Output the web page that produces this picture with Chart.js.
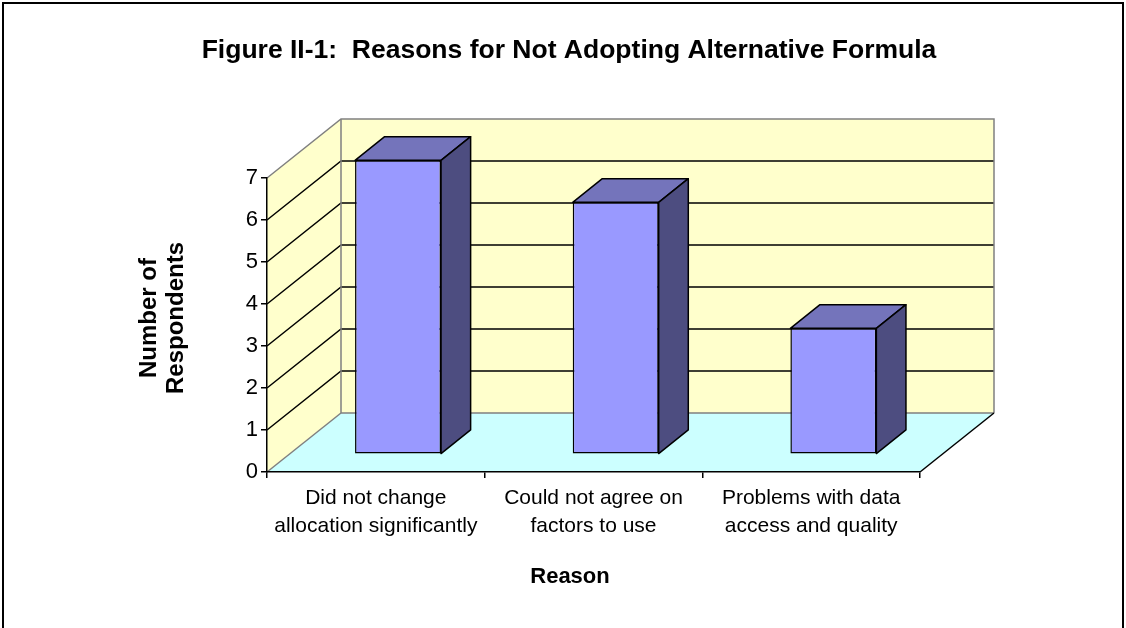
<!DOCTYPE html>
<html>
<head>
<meta charset="utf-8">
<script src="https://cdn.jsdelivr.net/npm/chart.js@4.4.1/dist/chart.umd.min.js"></script>
<style>
  html, body { margin: 0; padding: 0; background: #fff; }
  #wrap { width: 1126px; height: 628px; }
</style>
</head>
<body>
<div id="wrap"><canvas id="myChart" width="1126" height="628"></canvas></div>
<script>
const chartTitle = 'Figure II-1:  Reasons for Not Adopting Alternative Formula';
const xTitle = 'Reason';
const yTitle = ['Number of', 'Respondents'];
const reasons = [
    ['Did not change', 'allocation significantly'],
    ['Could not agree on', 'factors to use'],
    ['Problems with data', 'access and quality']
];
const respondents = [7, 6, 3];
const yMin = 0;
const yMax = 7;

const FONT = '"Liberation Sans", Arial, sans-serif';
// depth of the 3d box, and where the bars sit inside it
const DX = 74, DY = 59;
const BAR_POS = 0.3, BAR_DEPTH = 0.4;


function poly(ctx, pts, fill, stroke, width) {
    ctx.beginPath();
    ctx.moveTo(pts[0][0], pts[0][1]);
    for (let i = 1; i < pts.length; i++) ctx.lineTo(pts[i][0], pts[i][1]);
    ctx.closePath();
    if (fill) { ctx.fillStyle = fill; ctx.fill(); }
    if (stroke) { ctx.strokeStyle = stroke; ctx.lineWidth = width || 1; ctx.stroke(); }
}

function line(ctx, pts, color, width) {
    ctx.beginPath();
    ctx.moveTo(pts[0][0], pts[0][1]);
    for (let i = 1; i < pts.length; i++) ctx.lineTo(pts[i][0], pts[i][1]);
    ctx.strokeStyle = color;
    ctx.lineWidth = width;
    ctx.stroke();
}


const box3d = {
    id: 'box3d',
    beforeDraw(chart) {
        const { ctx, chartArea: a, scales: { y } } = chart;
        const W = chart.width, H = chart.height;
        ctx.save();
        ctx.fillStyle = '#fff';
        ctx.fillRect(0, 0, W, H);

        // frame round the whole figure
        line(ctx, [[3, H], [3, 3], [W - 3, 3], [W - 3, H]], '#000', 2);

        const top = y.getPixelForValue(yMax);
        const bot = y.getPixelForValue(yMin);
        const L = a.left, R = a.right;

        poly(ctx, [[L, bot], [L + DX, bot - DY], [R + DX, bot - DY], [R, bot]], '#ccffff');
        poly(ctx, [[L, bot], [L, top], [L + DX, top - DY], [L + DX, bot - DY]], '#ffffcc');
        poly(ctx, [[L + DX, top - DY], [R + DX, top - DY], [R + DX, bot - DY], [L + DX, bot - DY]], '#ffffcc');

        // gridlines on the side and back walls
        y.ticks.forEach(t => {
            if (t.value <= yMin || t.value >= yMax) return;
            const py = y.getPixelForValue(t.value);
            line(ctx, [[L, py], [L + DX, py - DY], [R + DX, py - DY]], '#000', 1.5);
        });

        // wall edges
        line(ctx, [[L, top], [L + DX, top - DY], [R + DX, top - DY], [R + DX, bot - DY]], '#808080', 1.5);
        line(ctx, [[L + DX, top - DY], [L + DX, bot - DY], [R + DX, bot - DY]], '#808080', 1.5);
        line(ctx, [[L, bot], [L + DX, bot - DY]], '#808080', 1.5);
        line(ctx, [[R, bot], [R + DX, bot - DY]], '#000', 1.5);
        ctx.restore();
    },
    beforeDatasetsDraw(chart) {
        chart.ctx.save();
        chart.ctx.translate(BAR_POS * DX, -BAR_POS * DY);
    },
    afterDatasetsDraw(chart) {
        const ctx = chart.ctx;
        const dx = BAR_DEPTH * DX, dy = BAR_DEPTH * DY;
        chart.getDatasetMeta(0).data.forEach(bar => {
            const { x, y, base, width } = bar.getProps(['x', 'y', 'base', 'width'], true);
            const l = x - width / 2, r = x + width / 2;
            ctx.lineJoin = 'round';
            poly(ctx, [[l, y], [l + dx, y - dy], [r + dx, y - dy], [r, y]], '#7474bb', '#000', 1.5);
            poly(ctx, [[r, y], [r + dx, y - dy], [r + dx, base - dy], [r, base]], '#4d4d80', '#000', 1.5);
        });
        ctx.restore();
    },
    afterDraw(chart) {
        const ctx = chart.ctx;
        ctx.save();
        ctx.fillStyle = '#000';
        ctx.textAlign = 'center';
        ctx.textBaseline = 'middle';
        ctx.font = 'bold 26.5px ' + FONT;
        ctx.fillText(chartTitle, 569, 51);

        ctx.font = 'bold 22px ' + FONT;
        ctx.fillText(xTitle, 570, 577);

        ctx.font = 'bold 24px ' + FONT;
        ctx.translate(149, 318);
        ctx.rotate(-Math.PI / 2);
        yTitle.forEach((t, i) => ctx.fillText(t, 0, i * 27));
        ctx.restore();
    }
};


const config = {
    type: 'bar',
    data: {
        labels: reasons,
        datasets: [{
            label: 'Respondents',
            data: respondents,
            backgroundColor: '#9999ff',
            borderColor: '#000',
            borderWidth: 1.5,
            borderSkipped: false,
            barPercentage: 0.395,
            categoryPercentage: 1,
            clip: false
        }]
    },
    options: {
        responsive: false,
        devicePixelRatio: 1,
        animation: false,
        layout: { padding: { top: 178, right: 206, left: 0, bottom: 0 } },
        plugins: {
            legend: { display: false },
            title: { display: false },
            tooltip: { enabled: false }
        },
        scales: {
            x: {
                grid: { drawOnChartArea: false, offset: true, tickLength: 6, color: '#000', lineWidth: 1.5 },
                border: { display: true, color: '#000', width: 1.5 },
                ticks: {
                    color: '#000',
                    font: { family: FONT, size: 21, lineHeight: 1.35 },
                    padding: 6,
                    maxRotation: 0,
                    autoSkip: false
                },
                afterFit(s) { s.height = 156; }
            },
            y: {
                min: yMin,
                max: yMax,
                grid: { drawOnChartArea: false, tickLength: 6, color: '#000', lineWidth: 1.5 },
                border: { display: true, color: '#000', width: 1.5 },
                ticks: {
                    stepSize: 1,
                    color: '#000',
                    font: { family: FONT, size: 22 },
                    padding: 3
                },
                afterFit(s) { s.width = 267; }
            }
        }
    },
    plugins: [box3d]
};

new Chart(document.getElementById('myChart'), config);
</script>
</body>
</html>
